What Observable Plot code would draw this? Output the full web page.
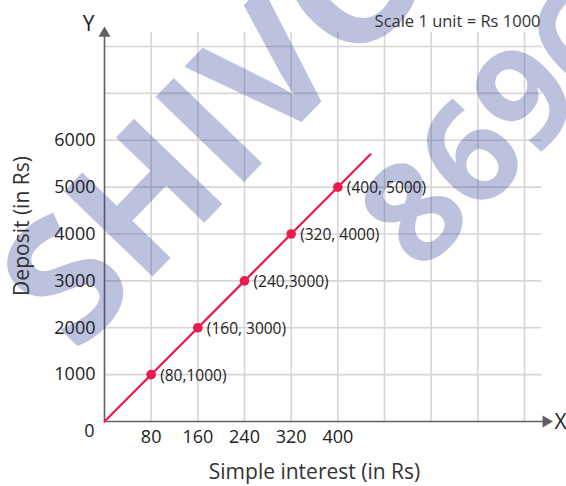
<!DOCTYPE html>
<html>
<head>
<meta charset="utf-8">
<script src="https://cdn.jsdelivr.net/npm/d3@7"></script>
<script src="https://cdn.jsdelivr.net/npm/@observablehq/plot@0.6"></script>
<style>
  html, body { margin: 0; padding: 0; background: #fff; }
  #chart svg { display: block; }
</style>
</head>
<body>
<div id="chart"></div>
<script>
// ---- data ----
const interest = [80, 160, 240, 320, 400];
const deposit = [1000, 2000, 3000, 4000, 5000];
const pointLabels = ["(80,1000)", "(160, 3000)", "(240,3000)", "(320, 4000)", "(400, 5000)"];
const xTicks = [80, 160, 240, 320, 400];
const yTicks = [1000, 2000, 3000, 4000, 5000, 6000];
const xGrid = [80, 160, 240, 320, 400, 480, 560, 640, 720];
const yGrid = [1000, 2000, 3000, 4000, 5000, 6000, 7000, 8000];
const lineX = [0, 456];
const lineY = [0, 5700];
const scaleNote = "Scale 1 unit = Rs 1000";
const xTitle = "Simple interest (in Rs)";
const yTitle = "Deposit (in Rs)";
const watermarks = [
  {text: "SHIVO", x: 200, y: 6300, size: 172},
  {text: "8696", x: 679, y: 6250, size: 140}
];

const points = interest.map((x, i) => ({x, y: deposit[i], label: pointLabels[i]}));
const lineData = lineX.map((x, i) => ({x, y: lineY[i]}));

const font = "'Open Sans', 'Noto Sans', sans-serif";
const red = "#ea1a4c";
const grid = "#d6d6d6";
const axis = "#606060";

const chart = Plot.plot({
  width: 566,
  height: 486,
  marginLeft: 104,
  marginRight: 42,
  marginTop: 46,
  marginBottom: 65,
  style: {fontFamily: font, fontSize: "16px", color: "#222", background: "#fff", overflow: "visible"},
  x: {domain: [0, 720], axis: null},
  y: {domain: [0, 8000], axis: null},
  marks: [
    Plot.ruleY(yGrid, {x1: 0, x2: 750, stroke: grid, strokeWidth: 1.6}),
    Plot.ruleX(xGrid, {y1: 0, y2: 8300, stroke: grid, strokeWidth: 1.6}),
    Plot.ruleY([0], {x1: 0, x2: 755, stroke: axis, strokeWidth: 1.6}),
    Plot.ruleX([0], {y1: 0, y2: 8250, stroke: axis, strokeWidth: 1.6}),
    Plot.dot([{x: 757, y: 0}], {x: "x", y: "y", symbol: "triangle", r: 4.5, rotate: 90, fill: axis, stroke: "none"}),
    Plot.dot([{x: 0, y: 8280}], {x: "x", y: "y", symbol: "triangle", r: 4.5, fill: axis, stroke: "none"}),
    Plot.text(watermarks, {x: "x", y: "y", text: "text", rotate: -46, fontSize: "size", fontWeight: "bold",
      fill: "#34449a", fillOpacity: 0.33, fontFamily: "'Open Sans', sans-serif"}),
    Plot.line(lineData, {x: "x", y: "y", stroke: red, strokeWidth: 2.2}),
    Plot.dot(points, {x: "x", y: "y", r: 4.8, fill: red, stroke: "none"}),
    Plot.text(points, {x: "x", y: "y", text: "label", dx: 9, dy: 1, textAnchor: "start", fontSize: 15.5, fill: "#222"}),
    Plot.axisX({ticks: xTicks, tickSize: 0, tickPadding: 9, fontSize: 18, fill: "#222", label: null, tickFormat: d => String(d)}),
    Plot.axisY({ticks: yTicks, tickSize: 0, tickPadding: 9, fontSize: 18, fill: "#222", label: null, tickFormat: d => String(d)}),
    Plot.text([{x: 0, y: 0}], {x: "x", y: "y", text: () => "0", dx: -15, dy: 10, fontSize: 18, fill: "#222"}),
    Plot.text([{x: 0, y: 8380}], {x: "x", y: "y", text: () => "Y", dx: -16, dy: -4, fontSize: 21, fill: "#222"}),
    Plot.text([{x: 763, y: 0}], {x: "x", y: "y", text: () => "X", dx: 11, dy: 1, fontSize: 21, fill: "#222"}),
    Plot.text([xTitle], {frameAnchor: "bottom", dy: 57, fontSize: 21, fill: "#333"}),
    Plot.text([yTitle], {frameAnchor: "left", textAnchor: "middle", lineAnchor: "middle", rotate: -90, dx: -82, dy: -8, fontSize: 21, fill: "#333"}),
    Plot.text([scaleNote], {frameAnchor: "top-right", textAnchor: "end", dx: 16, dy: -31, fontSize: 16.5, fill: "#333"})
  ]
});
document.getElementById("chart").appendChild(chart);
</script>
</body>
</html>
